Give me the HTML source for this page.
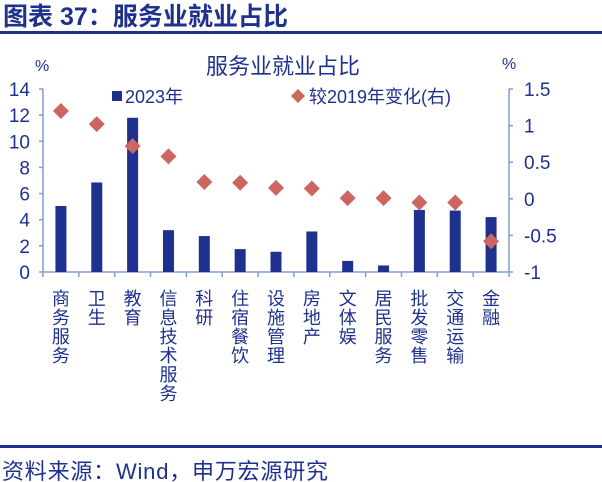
<!DOCTYPE html>
<html><head><meta charset="utf-8"><style>
body{margin:0;background:#fff;width:602px;height:482px;overflow:hidden}
svg{display:block}
text{font-family:"Liberation Sans","Noto Sans CJK SC",sans-serif;fill:#1F318E}
</style></head><body>
<svg width="602" height="482" viewBox="0 0 602 482">
<text x="3" y="25" font-size="25" font-weight="bold" textLength="285">图表 37：服务业就业占比</text>
<rect x="0" y="31" width="602" height="3" fill="#1F318E"/>
<text x="283" y="74" font-size="22" text-anchor="middle">服务业就业占比</text>
<text x="35" y="71" font-size="16">%</text>
<text x="502" y="69" font-size="16">%</text>
<g id="plot"></g>
<rect x="0" y="445" width="602" height="3" fill="#1F318E"/>
<text x="2" y="479" font-size="22" textLength="326">资料来源：Wind，申万宏源研究</text>
</svg>
<script>
const g=document.getElementById('plot');const NS='http://www.w3.org/2000/svg';
function el(t,a,txt){const e=document.createElementNS(NS,t);for(const k in a)e.setAttribute(k,a[k]);if(txt!=null)e.textContent=txt;g.appendChild(e);return e;}
const L=43,R=509,Y0=272,YT=89,ax='#7F9FD0';
const yl=v=>Y0-(v/14)*(Y0-YT), yr=v=>Y0-((v+1)/2.5)*(Y0-YT);
el('line',{x1:L,y1:YT,x2:L,y2:Y0,stroke:ax,'stroke-width':1.5});
el('line',{x1:R,y1:YT,x2:R,y2:Y0,stroke:ax,'stroke-width':1.5});
el('line',{x1:L,y1:Y0,x2:R,y2:Y0,stroke:ax,'stroke-width':1.5});
for(let v=0;v<=14;v+=2){const y=yl(v);el('line',{x1:L-4,y1:y,x2:L,y2:y,stroke:ax,'stroke-width':1.5});el('text',{x:30,y:y+7,'font-size':19,'text-anchor':'end'},v);}
[1.5,1,0.5,0,-0.5,-1].forEach(v=>{const y=yr(v);el('line',{x1:R,y1:y,x2:R+4,y2:y,stroke:ax,'stroke-width':1.5});el('text',{x:524,y:y+7,'font-size':19},v);});
const cats=['商务服务','卫生','教育','信息技术服务','科研','住宿餐饮','设施管理','房地产','文体娱','居民服务','批发零售','交通运输','金融'];
const bars=[5.05,6.85,11.8,3.2,2.75,1.75,1.55,3.1,0.85,0.5,4.75,4.7,4.2];
const dia=[1.2,1.02,0.72,0.58,0.23,0.22,0.15,0.14,0.01,0.01,-0.05,-0.05,-0.58];
const w=(R-L)/13;
for(let i=0;i<13;i++){
 const x=L+w*i;el('line',{x1:x,y1:Y0,x2:x,y2:Y0+5,stroke:ax,'stroke-width':1.5});
 const c=x+w/2;
 el('rect',{x:c-5.5,y:yl(bars[i]),width:11,height:Y0-yl(bars[i]),fill:'#1F318E'});
 const dy=yr(dia[i]);el('path',{d:`M${c} ${dy-8}L${c+8} ${dy}L${c} ${dy+8}L${c-8} ${dy}Z`,fill:'#CD6660'});
 [...cats[i]].forEach((ch,j)=>el('text',{x:c,y:305+j*19,'font-size':18,'text-anchor':'middle'},ch));
}
el('line',{x1:R,y1:Y0,x2:R,y2:Y0+5,stroke:ax,'stroke-width':1.5});
el('rect',{x:112,y:91,width:10,height:10,fill:'#1F318E'});
el('text',{x:125,y:103,'font-size':18},'2023年');
el('path',{d:'M298 89L305 96L298 103L291 96Z',fill:'#CD6660'});
el('text',{x:309,y:103,'font-size':18},'较2019年变化(右)');
</script>
</body></html>
